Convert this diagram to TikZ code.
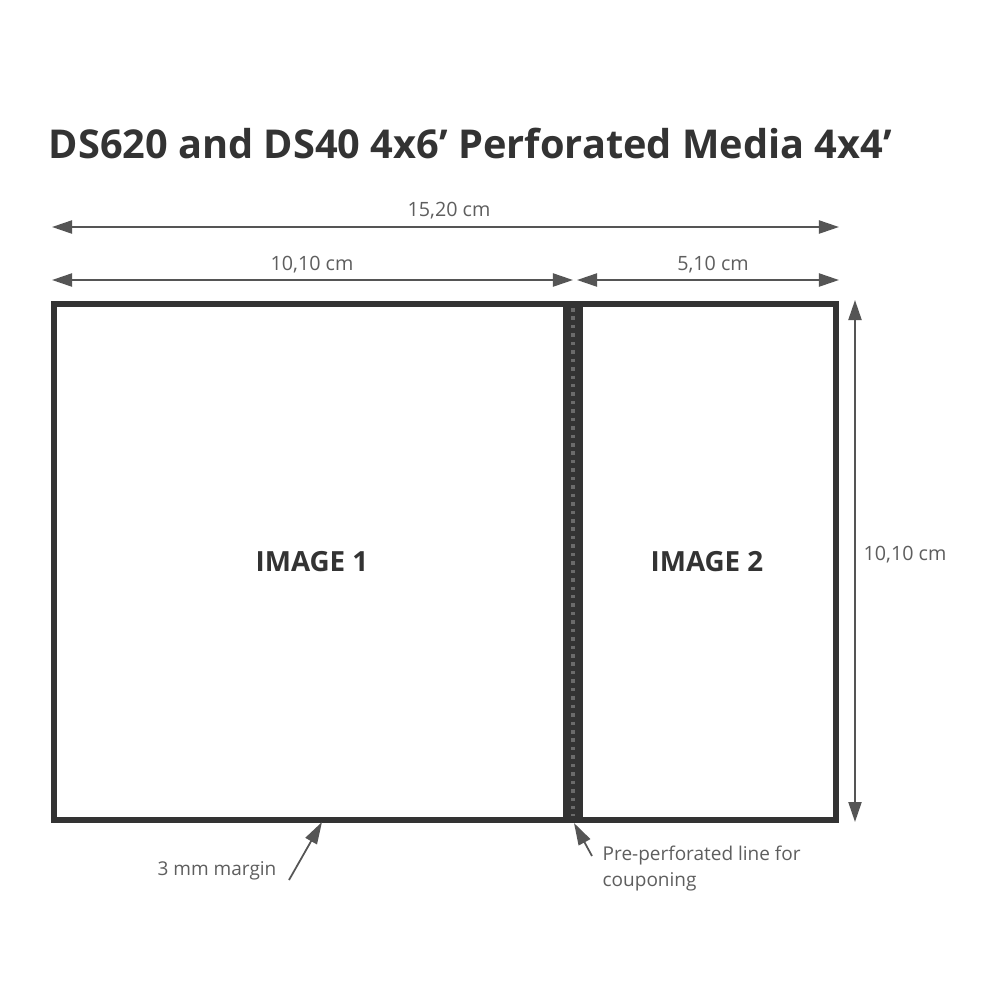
\documentclass[tikz,border=0pt]{standalone}
\usepackage{fontspec}
\setmainfont{Open Sans}
\usetikzlibrary{arrows.meta,positioning}
\definecolor{inkgray}{HTML}{333333}
\definecolor{linegray}{HTML}{555555}
\definecolor{textgray}{HTML}{5E5E5E}
\tikzset{
  dimline/.style={linegray,line width=0.6pt,
    {Triangle[length=2mm,width=1.3mm]}-{Triangle[length=2mm,width=1.3mm]}},
  pointer/.style={linegray,line width=0.5pt,-{Triangle[length=2.2mm,width=1.3mm]}},
  panel/.style={draw=inkgray,line width=1.8pt},
  dimlabel/.style={text=textgray,inner sep=0pt,font=\fontsize{5.6}{6}\selectfont},
  notelabel/.style={text=textgray,inner sep=0pt,align=left,font=\fontsize{5.4}{7.6}\selectfont},
  imglabel/.style={text=inkgray,inner sep=0pt,font=\bfseries\fontsize{7.9}{9}\selectfont}
}
\begin{document}
\begin{tikzpicture}[x=0.01cm,y=-0.01cm]
  \useasboundingbox[fill=white] (0,0) rectangle (990,990);
  % title
  \node[text=inkgray,inner sep=0pt,anchor=west,font=\bfseries\fontsize{11.3}{13}\selectfont]
    (title) at (48,143) {DS620 and DS40 4x6’ Perforated Media 4x4’};
  % perforation strip
  \fill[inkgray] (566,301) rectangle (580,823);
  \draw[black!58,line width=1pt,dash pattern=on 1pt off 1.4pt] (573,308) -- (573,816);
  % print panels
  \draw[panel] (54,304) rectangle (566,820);
  \draw[panel] (580,304) rectangle (836,820);
  \node[imglabel] (img1) at (312,562) {IMAGE 1};
  \node[imglabel] (img2) at (707,562) {IMAGE 2};
  % dimension ends
  \coordinate (fullL) at (52,227);
  \coordinate (fullR) at (839,227);
  \coordinate (leftL) at (52,280);
  \coordinate (leftR) at (573,280);
  \coordinate (rightL) at (577,280);
  \coordinate (rightR) at (839,280);
  \coordinate (hiT) at (855,300);
  \coordinate (hiB) at (855,822);
  % dimension lines
  \draw[dimline] (fullL) -- (fullR);
  \node[dimlabel] (fullw) at (449,211) {15,20 cm};
  \draw[dimline] (leftL) -- (leftR);
  \node[dimlabel] (leftw) at (312,265) {10,10 cm};
  \draw[dimline] (rightL) -- (rightR);
  \node[dimlabel] (rightw) at (713,265) {5,10 cm};
  \draw[dimline] (hiT) -- (hiB);
  \node[dimlabel] (height) at (905,555) {10,10 cm};
  % notes
  \node[notelabel,anchor=west] (margin) at (157,871) {3 mm margin};
  \coordinate (marginTip) at (322,822);
  \draw[pointer] (289,880) -- (marginTip);
  \node[notelabel,anchor=north west] (perf) at (602,845) {Pre-perforated line for\\couponing};
  \coordinate (perfTip) at (574,823);
  \draw[pointer] (592,856) -- (perfTip);
\end{tikzpicture}
\end{document}
